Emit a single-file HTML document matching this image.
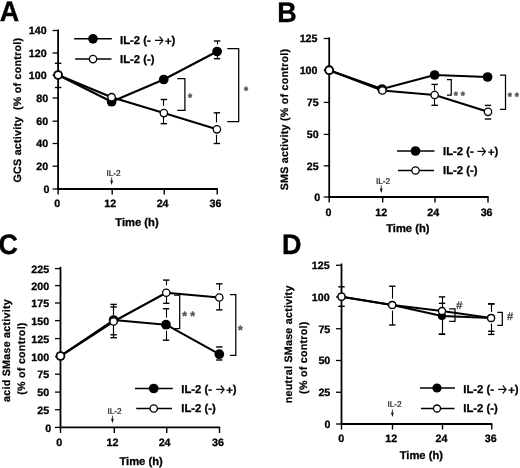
<!DOCTYPE html>
<html lang="en">
<head>
<meta charset="utf-8">
<title>Figure: GCS, SMS, acid and neutral SMase activity after IL-2</title>
<style>
html,body{margin:0;padding:0;background:#fff;}
body{width:520px;height:468px;overflow:hidden;}
svg{display:block;font-family:"Liberation Sans", sans-serif;text-rendering:geometricPrecision;}
</style>
</head>
<body>
<svg width="520" height="468" viewBox="0 0 520 468">
<rect width="520" height="468" fill="#fff"/>
<g>
<text transform="translate(-0.3 21.2) scale(0.955 1)" font-size="28.2" font-weight="bold" fill="#000" stroke="#000" stroke-width="0.35">A</text>
<text transform="translate(20.6 110.1) rotate(-90)" font-size="10.7" font-weight="bold" letter-spacing="0.25" text-anchor="middle" fill="#000" stroke="#000" stroke-width="0.22">GCS activity&#160; (% of control)</text>
<text x="137" y="226.2" font-size="11.2" font-weight="bold" text-anchor="middle" fill="#000"  stroke="#000" stroke-width="0.3">Time (h)</text>
<line x1="52.6" y1="189" x2="58.1" y2="189" stroke="#000" stroke-width="1.3" stroke-linecap="butt"/>
<text x="49.5" y="192.9" font-size="10.7" font-weight="bold" text-anchor="end" fill="#000"  stroke="#000" stroke-width="0.3">0</text>
<line x1="52.6" y1="166.2" x2="58.1" y2="166.2" stroke="#000" stroke-width="1.3" stroke-linecap="butt"/>
<text x="48.2" y="170.1" font-size="10.7" font-weight="bold" text-anchor="end" fill="#000"  stroke="#000" stroke-width="0.3">20</text>
<line x1="52.6" y1="143.5" x2="58.1" y2="143.5" stroke="#000" stroke-width="1.3" stroke-linecap="butt"/>
<text x="48.2" y="147.4" font-size="10.7" font-weight="bold" text-anchor="end" fill="#000"  stroke="#000" stroke-width="0.3">40</text>
<line x1="52.6" y1="121.2" x2="58.1" y2="121.2" stroke="#000" stroke-width="1.3" stroke-linecap="butt"/>
<text x="48.2" y="125.1" font-size="10.7" font-weight="bold" text-anchor="end" fill="#000"  stroke="#000" stroke-width="0.3">60</text>
<line x1="52.6" y1="98" x2="58.1" y2="98" stroke="#000" stroke-width="1.3" stroke-linecap="butt"/>
<text x="48.2" y="101.9" font-size="10.7" font-weight="bold" text-anchor="end" fill="#000"  stroke="#000" stroke-width="0.3">80</text>
<line x1="52.6" y1="75.3" x2="58.1" y2="75.3" stroke="#000" stroke-width="1.3" stroke-linecap="butt"/>
<text x="46.6" y="79.2" font-size="10.7" font-weight="bold" text-anchor="end" fill="#000"  stroke="#000" stroke-width="0.3">100</text>
<line x1="52.6" y1="53" x2="58.1" y2="53" stroke="#000" stroke-width="1.3" stroke-linecap="butt"/>
<text x="46.6" y="56.9" font-size="10.7" font-weight="bold" text-anchor="end" fill="#000"  stroke="#000" stroke-width="0.3">120</text>
<line x1="52.6" y1="30.5" x2="58.1" y2="30.5" stroke="#000" stroke-width="1.3" stroke-linecap="butt"/>
<text x="46.6" y="34.4" font-size="10.7" font-weight="bold" text-anchor="end" fill="#000"  stroke="#000" stroke-width="0.3">140</text>
<line x1="58.1" y1="189" x2="58.1" y2="194.6" stroke="#000" stroke-width="1.4" stroke-linecap="butt"/>
<text x="57.3" y="206.8" font-size="10.7" font-weight="bold" text-anchor="middle" fill="#000"  stroke="#000" stroke-width="0.3">0</text>
<line x1="112.2" y1="189" x2="112.2" y2="194.6" stroke="#000" stroke-width="1.4" stroke-linecap="butt"/>
<text x="110.2" y="206.8" font-size="10.7" font-weight="bold" text-anchor="middle" fill="#000"  stroke="#000" stroke-width="0.3">12</text>
<line x1="164.2" y1="189" x2="164.2" y2="194.6" stroke="#000" stroke-width="1.4" stroke-linecap="butt"/>
<text x="162.6" y="206.8" font-size="10.7" font-weight="bold" text-anchor="middle" fill="#000"  stroke="#000" stroke-width="0.3">24</text>
<line x1="217.25" y1="189" x2="217.25" y2="194.6" stroke="#000" stroke-width="1.4" stroke-linecap="butt"/>
<text x="215.5" y="206.8" font-size="10.7" font-weight="bold" text-anchor="middle" fill="#000"  stroke="#000" stroke-width="0.3">36</text>
<text x="113.55" y="176" font-size="8.3" font-weight="normal" text-anchor="middle" fill="#111" stroke="#111" stroke-width="0.2">IL-2</text>
<line x1="111.65" y1="177.4" x2="111.65" y2="183.5" stroke="#111" stroke-width="0.8" stroke-linecap="butt"/>
<path d="M110.25 180.5 L111.65 185 L113.05 180.5 Z" fill="#111"/>
<line x1="58.5" y1="63.3" x2="58.5" y2="67.45" stroke="#000" stroke-width="1.1" stroke-linecap="butt"/>
<line x1="58.5" y1="79.35" x2="58.5" y2="87.5" stroke="#000" stroke-width="1.1" stroke-linecap="butt"/>
<line x1="54.9" y1="63.3" x2="61.3" y2="63.3" stroke="#000" stroke-width="1.4" stroke-linecap="butt"/>
<line x1="54.9" y1="87.5" x2="61.3" y2="87.5" stroke="#000" stroke-width="1.4" stroke-linecap="butt"/>
<line x1="217.5" y1="41" x2="217.5" y2="44.45" stroke="#000" stroke-width="1.1" stroke-linecap="butt"/>
<line x1="217.5" y1="55.85" x2="217.5" y2="58.7" stroke="#000" stroke-width="1.1" stroke-linecap="butt"/>
<line x1="213.9" y1="41" x2="220.3" y2="41" stroke="#000" stroke-width="1.4" stroke-linecap="butt"/>
<line x1="213.9" y1="58.7" x2="220.3" y2="58.7" stroke="#000" stroke-width="1.4" stroke-linecap="butt"/>
<line x1="163.5" y1="99.5" x2="163.5" y2="105.75" stroke="#000" stroke-width="1.1" stroke-linecap="butt"/>
<line x1="163.5" y1="116.95" x2="163.5" y2="123.7" stroke="#000" stroke-width="1.1" stroke-linecap="butt"/>
<line x1="160.65" y1="99.5" x2="167.05" y2="99.5" stroke="#000" stroke-width="1.4" stroke-linecap="butt"/>
<line x1="160.65" y1="123.7" x2="167.05" y2="123.7" stroke="#000" stroke-width="1.4" stroke-linecap="butt"/>
<line x1="216.5" y1="112.8" x2="216.5" y2="122.45" stroke="#000" stroke-width="1.1" stroke-linecap="butt"/>
<line x1="216.5" y1="134.65" x2="216.5" y2="143.5" stroke="#000" stroke-width="1.1" stroke-linecap="butt"/>
<line x1="213.7" y1="112.8" x2="220.1" y2="112.8" stroke="#000" stroke-width="1.4" stroke-linecap="butt"/>
<line x1="213.7" y1="143.5" x2="220.1" y2="143.5" stroke="#000" stroke-width="1.4" stroke-linecap="butt"/>
<line x1="58.1" y1="29.5" x2="58.1" y2="189.8" stroke="#000" stroke-width="1.8" stroke-linecap="butt"/>
<line x1="57.3" y1="189" x2="217.85" y2="189" stroke="#000" stroke-width="1.8" stroke-linecap="butt"/>
<polyline points="58.1,75 111.6,101.7 163.75,79.5 217.1,51.5" fill="none" stroke="#000" stroke-width="2.1" stroke-linejoin="round"/>
<polyline points="58.1,75 111.6,97.2 163.85,113.1 216.9,129.3" fill="none" stroke="#000" stroke-width="2.1" stroke-linejoin="round"/>
<circle cx="58.1" cy="75" r="4.85" fill="#000"/>
<circle cx="111.6" cy="101.7" r="4.85" fill="#000"/>
<circle cx="163.75" cy="79.5" r="4.85" fill="#000"/>
<circle cx="217.1" cy="51.5" r="4.85" fill="#000"/>
<circle cx="58.1" cy="75" r="3.7" fill="#fff" stroke="#000" stroke-width="1.3"/>
<circle cx="111.6" cy="97.2" r="3.7" fill="#fff" stroke="#000" stroke-width="1.3"/>
<circle cx="163.85" cy="113.1" r="3.7" fill="#fff" stroke="#000" stroke-width="1.3"/>
<circle cx="216.9" cy="129.3" r="3.7" fill="#fff" stroke="#000" stroke-width="1.3"/>
<polyline points="177.2,78.7 184.9,78.7 184.9,110.4 177.2,110.4" fill="none" stroke="#000" stroke-width="1.25"/>
<polyline points="227.3,48.5 238.7,48.5 238.7,121.7 227.3,121.7" fill="none" stroke="#000" stroke-width="1.25"/>
<text x="187.9" y="101" font-size="10.5" font-weight="bold" text-anchor="start" fill="#555" stroke="#555" stroke-width="0.45">*</text>
<text x="244.1" y="94.2" font-size="10.5" font-weight="bold" text-anchor="start" fill="#555" stroke="#555" stroke-width="0.45">*</text>
<line x1="74.2" y1="38.85" x2="111.8" y2="38.85" stroke="#000" stroke-width="1.5" stroke-linecap="butt"/>
<circle cx="93" cy="38.85" r="4.85" fill="#000"/>
<line x1="75.2" y1="59.1" x2="111.5" y2="59.1" stroke="#000" stroke-width="1.5" stroke-linecap="butt"/>
<circle cx="93" cy="59.1" r="3.7" fill="#fff" stroke="#000" stroke-width="1.3"/>
<text x="120" y="44.15" font-size="11.3" font-weight="bold" text-anchor="start" fill="#000"  stroke="#000" stroke-width="0.3">IL-2 (-</text>
<svg x="155" y="32.7" width="8.8" height="16" overflow="hidden"><text transform="translate(-5.8 14.2) scale(0.85 1)" font-family="'DejaVu Sans', sans-serif" font-weight="200" font-size="21" fill="#000" stroke="#000" stroke-width="0.25">→</text></svg>
<text x="165" y="44.65" font-size="11.3" font-weight="bold" text-anchor="start" fill="#000"  stroke="#000" stroke-width="0.3">+</text>
<text x="171.6" y="44.15" font-size="11.3" font-weight="bold" text-anchor="start" fill="#000"  stroke="#000" stroke-width="0.3">)</text>
<text x="120" y="63.1" font-size="11.3" font-weight="bold" text-anchor="start" fill="#000"  stroke="#000" stroke-width="0.3">IL-2 (-)</text>
</g>
<g>
<text transform="translate(277.2 21.5) scale(0.955 1)" font-size="28.2" font-weight="bold" fill="#000" stroke="#000" stroke-width="0.35">B</text>
<text transform="translate(288.2 119.5) rotate(-90)" font-size="10.7" font-weight="bold" letter-spacing="0.25" text-anchor="middle" fill="#000" stroke="#000" stroke-width="0.22">SMS activity (% of control)</text>
<text x="407.8" y="231.8" font-size="11.2" font-weight="bold" text-anchor="middle" fill="#000"  stroke="#000" stroke-width="0.3">Time (h)</text>
<line x1="323.7" y1="197" x2="329.2" y2="197" stroke="#000" stroke-width="1.3" stroke-linecap="butt"/>
<text x="320.2" y="200.9" font-size="10.7" font-weight="bold" text-anchor="end" fill="#000"  stroke="#000" stroke-width="0.3">0</text>
<line x1="323.7" y1="165.85" x2="329.2" y2="165.85" stroke="#000" stroke-width="1.3" stroke-linecap="butt"/>
<text x="318.7" y="169.75" font-size="10.7" font-weight="bold" text-anchor="end" fill="#000"  stroke="#000" stroke-width="0.3">25</text>
<line x1="323.7" y1="134.4" x2="329.2" y2="134.4" stroke="#000" stroke-width="1.3" stroke-linecap="butt"/>
<text x="318.7" y="138.3" font-size="10.7" font-weight="bold" text-anchor="end" fill="#000"  stroke="#000" stroke-width="0.3">50</text>
<line x1="323.7" y1="102.4" x2="329.2" y2="102.4" stroke="#000" stroke-width="1.3" stroke-linecap="butt"/>
<text x="318.7" y="106.3" font-size="10.7" font-weight="bold" text-anchor="end" fill="#000"  stroke="#000" stroke-width="0.3">75</text>
<line x1="323.7" y1="70.2" x2="329.2" y2="70.2" stroke="#000" stroke-width="1.3" stroke-linecap="butt"/>
<text x="317.5" y="74.1" font-size="10.7" font-weight="bold" text-anchor="end" fill="#000"  stroke="#000" stroke-width="0.3">100</text>
<line x1="323.7" y1="38.5" x2="329.2" y2="38.5" stroke="#000" stroke-width="1.3" stroke-linecap="butt"/>
<text x="317.5" y="42.4" font-size="10.7" font-weight="bold" text-anchor="end" fill="#000"  stroke="#000" stroke-width="0.3">125</text>
<line x1="329.2" y1="197" x2="329.2" y2="202.6" stroke="#000" stroke-width="1.4" stroke-linecap="butt"/>
<text x="328.4" y="215.8" font-size="10.7" font-weight="bold" text-anchor="middle" fill="#000"  stroke="#000" stroke-width="0.3">0</text>
<line x1="382.7" y1="197" x2="382.7" y2="202.6" stroke="#000" stroke-width="1.4" stroke-linecap="butt"/>
<text x="381.3" y="215.8" font-size="10.7" font-weight="bold" text-anchor="middle" fill="#000"  stroke="#000" stroke-width="0.3">12</text>
<line x1="435" y1="197" x2="435" y2="202.6" stroke="#000" stroke-width="1.4" stroke-linecap="butt"/>
<text x="433.3" y="215.8" font-size="10.7" font-weight="bold" text-anchor="middle" fill="#000"  stroke="#000" stroke-width="0.3">24</text>
<line x1="488" y1="197" x2="488" y2="202.6" stroke="#000" stroke-width="1.4" stroke-linecap="butt"/>
<text x="486.6" y="215.8" font-size="10.7" font-weight="bold" text-anchor="middle" fill="#000"  stroke="#000" stroke-width="0.3">36</text>
<text x="383.05" y="184" font-size="8.3" font-weight="normal" text-anchor="middle" fill="#111" stroke="#111" stroke-width="0.2">IL-2</text>
<line x1="381.25" y1="185.4" x2="381.25" y2="191.5" stroke="#111" stroke-width="0.8" stroke-linecap="butt"/>
<path d="M379.85 188.5 L381.25 193 L382.65 188.5 Z" fill="#111"/>
<line x1="434.5" y1="84.4" x2="434.5" y2="90.65" stroke="#000" stroke-width="1.1" stroke-linecap="butt"/>
<line x1="434.5" y1="98.85" x2="434.5" y2="105.3" stroke="#000" stroke-width="1.1" stroke-linecap="butt"/>
<line x1="431.45" y1="84.4" x2="437.85" y2="84.4" stroke="#000" stroke-width="1.4" stroke-linecap="butt"/>
<line x1="431.45" y1="105.3" x2="437.85" y2="105.3" stroke="#000" stroke-width="1.4" stroke-linecap="butt"/>
<line x1="488.5" y1="118.7" x2="488.5" y2="119" stroke="#000" stroke-width="1.1" stroke-linecap="butt"/>
<line x1="484.8" y1="105.4" x2="491.2" y2="105.4" stroke="#000" stroke-width="1.4" stroke-linecap="butt"/>
<line x1="484.8" y1="119" x2="491.2" y2="119" stroke="#000" stroke-width="1.4" stroke-linecap="butt"/>
<line x1="329.2" y1="37.5" x2="329.2" y2="197.8" stroke="#000" stroke-width="1.8" stroke-linecap="butt"/>
<line x1="328.4" y1="197" x2="488.6" y2="197" stroke="#000" stroke-width="1.8" stroke-linecap="butt"/>
<polyline points="329.2,70.2 382,89 434.65,75 487.6,77" fill="none" stroke="#000" stroke-width="2.1" stroke-linejoin="round"/>
<polyline points="329.2,70.2 382.4,90.5 434.65,95 488,111.85" fill="none" stroke="#000" stroke-width="2.1" stroke-linejoin="round"/>
<circle cx="329.2" cy="70.2" r="4.85" fill="#000"/>
<circle cx="382" cy="89" r="4.85" fill="#000"/>
<circle cx="434.65" cy="75" r="4.85" fill="#000"/>
<circle cx="487.6" cy="77" r="4.85" fill="#000"/>
<circle cx="329.2" cy="70.2" r="3.7" fill="#fff" stroke="#000" stroke-width="1.3"/>
<circle cx="382.4" cy="90.5" r="3.7" fill="#fff" stroke="#000" stroke-width="1.3"/>
<circle cx="434.65" cy="95" r="3.7" fill="#fff" stroke="#000" stroke-width="1.3"/>
<circle cx="488" cy="111.85" r="3.7" fill="#fff" stroke="#000" stroke-width="1.3"/>
<polyline points="447,79.5 451.25,79.5 451.25,95 447,95" fill="none" stroke="#000" stroke-width="1.25"/>
<polyline points="500,75 505.5,75 505.5,109.25 500,109.25" fill="none" stroke="#000" stroke-width="1.25"/>
<text x="453.75" y="99.1" font-size="10.5" font-weight="bold" text-anchor="start" fill="#555" stroke="#555" stroke-width="0.45">* *</text>
<text x="507.75" y="100" font-size="10.5" font-weight="bold" text-anchor="start" fill="#555" stroke="#555" stroke-width="0.45">* *</text>
<line x1="397" y1="151" x2="434.5" y2="151" stroke="#000" stroke-width="1.5" stroke-linecap="butt"/>
<circle cx="415.5" cy="151" r="4.85" fill="#000"/>
<line x1="398" y1="170.5" x2="434" y2="170.5" stroke="#000" stroke-width="1.5" stroke-linecap="butt"/>
<circle cx="415.5" cy="170.5" r="3.7" fill="#fff" stroke="#000" stroke-width="1.3"/>
<text x="443" y="154.8" font-size="11.3" font-weight="bold" text-anchor="start" fill="#000"  stroke="#000" stroke-width="0.3">IL-2 (-</text>
<svg x="477.5" y="143.9" width="8.8" height="16" overflow="hidden"><text transform="translate(-5.8 14.2) scale(0.85 1)" font-family="'DejaVu Sans', sans-serif" font-weight="200" font-size="21" fill="#000" stroke="#000" stroke-width="0.25">→</text></svg>
<text x="488" y="155.7" font-size="11.3" font-weight="bold" text-anchor="start" fill="#000"  stroke="#000" stroke-width="0.3">+</text>
<text x="494.6" y="154.8" font-size="11.3" font-weight="bold" text-anchor="start" fill="#000"  stroke="#000" stroke-width="0.3">)</text>
<text x="443" y="173.7" font-size="11.3" font-weight="bold" text-anchor="start" fill="#000"  stroke="#000" stroke-width="0.3">IL-2 (-)</text>
</g>
<g>
<text transform="translate(-1.4 253.5) scale(0.955 1)" font-size="28.2" font-weight="bold" fill="#000" stroke="#000" stroke-width="0.35">C</text>
<text transform="translate(10.1 350.5) rotate(-90)" font-size="10.7" font-weight="bold" letter-spacing="0.25" text-anchor="middle" fill="#000" stroke="#000" stroke-width="0.22">acid SMase activity</text>
<text transform="translate(24.7 358.5) rotate(-90)" font-size="10.7" font-weight="bold" letter-spacing="0.25" text-anchor="middle" fill="#000" stroke="#000" stroke-width="0.22">(% of control)</text>
<text x="141.1" y="465.1" font-size="11.2" font-weight="bold" text-anchor="middle" fill="#000"  stroke="#000" stroke-width="0.3">Time (h)</text>
<line x1="55" y1="427.4" x2="60.5" y2="427.4" stroke="#000" stroke-width="1.3" stroke-linecap="butt"/>
<text x="51.2" y="431.6" font-size="10.7" font-weight="bold" text-anchor="end" fill="#000"  stroke="#000" stroke-width="0.3">0</text>
<line x1="55" y1="409.7" x2="60.5" y2="409.7" stroke="#000" stroke-width="1.3" stroke-linecap="butt"/>
<text x="49.1" y="413.9" font-size="10.7" font-weight="bold" text-anchor="end" fill="#000"  stroke="#000" stroke-width="0.3">25</text>
<line x1="55" y1="392.1" x2="60.5" y2="392.1" stroke="#000" stroke-width="1.3" stroke-linecap="butt"/>
<text x="49.1" y="396.3" font-size="10.7" font-weight="bold" text-anchor="end" fill="#000"  stroke="#000" stroke-width="0.3">50</text>
<line x1="55" y1="374.2" x2="60.5" y2="374.2" stroke="#000" stroke-width="1.3" stroke-linecap="butt"/>
<text x="49.1" y="378.4" font-size="10.7" font-weight="bold" text-anchor="end" fill="#000"  stroke="#000" stroke-width="0.3">75</text>
<line x1="55" y1="356.6" x2="60.5" y2="356.6" stroke="#000" stroke-width="1.3" stroke-linecap="butt"/>
<text x="49.1" y="360.8" font-size="10.7" font-weight="bold" text-anchor="end" fill="#000"  stroke="#000" stroke-width="0.3">100</text>
<line x1="55" y1="338.6" x2="60.5" y2="338.6" stroke="#000" stroke-width="1.3" stroke-linecap="butt"/>
<text x="49.1" y="342.8" font-size="10.7" font-weight="bold" text-anchor="end" fill="#000"  stroke="#000" stroke-width="0.3">125</text>
<line x1="55" y1="320.6" x2="60.5" y2="320.6" stroke="#000" stroke-width="1.3" stroke-linecap="butt"/>
<text x="49.1" y="324.8" font-size="10.7" font-weight="bold" text-anchor="end" fill="#000"  stroke="#000" stroke-width="0.3">150</text>
<line x1="55" y1="303" x2="60.5" y2="303" stroke="#000" stroke-width="1.3" stroke-linecap="butt"/>
<text x="49.1" y="307.2" font-size="10.7" font-weight="bold" text-anchor="end" fill="#000"  stroke="#000" stroke-width="0.3">175</text>
<line x1="55" y1="285.6" x2="60.5" y2="285.6" stroke="#000" stroke-width="1.3" stroke-linecap="butt"/>
<text x="49.1" y="289.8" font-size="10.7" font-weight="bold" text-anchor="end" fill="#000"  stroke="#000" stroke-width="0.3">200</text>
<line x1="55" y1="268.6" x2="60.5" y2="268.6" stroke="#000" stroke-width="1.3" stroke-linecap="butt"/>
<text x="49.1" y="272.8" font-size="10.7" font-weight="bold" text-anchor="end" fill="#000"  stroke="#000" stroke-width="0.3">225</text>
<line x1="60.5" y1="427.4" x2="60.5" y2="433" stroke="#000" stroke-width="1.4" stroke-linecap="butt"/>
<text x="59.3" y="445.5" font-size="10.7" font-weight="bold" text-anchor="middle" fill="#000"  stroke="#000" stroke-width="0.3">0</text>
<line x1="114.3" y1="427.4" x2="114.3" y2="433" stroke="#000" stroke-width="1.4" stroke-linecap="butt"/>
<text x="112.5" y="445.5" font-size="10.7" font-weight="bold" text-anchor="middle" fill="#000"  stroke="#000" stroke-width="0.3">12</text>
<line x1="166.75" y1="427.4" x2="166.75" y2="433" stroke="#000" stroke-width="1.4" stroke-linecap="butt"/>
<text x="164.6" y="445.5" font-size="10.7" font-weight="bold" text-anchor="middle" fill="#000"  stroke="#000" stroke-width="0.3">24</text>
<line x1="219.5" y1="427.4" x2="219.5" y2="433" stroke="#000" stroke-width="1.4" stroke-linecap="butt"/>
<text x="218" y="445.5" font-size="10.7" font-weight="bold" text-anchor="middle" fill="#000"  stroke="#000" stroke-width="0.3">36</text>
<text x="114.55" y="413.5" font-size="8.3" font-weight="normal" text-anchor="middle" fill="#111" stroke="#111" stroke-width="0.2">IL-2</text>
<line x1="112.45" y1="415.7" x2="112.45" y2="421.8" stroke="#111" stroke-width="0.8" stroke-linecap="butt"/>
<path d="M111.05 418.8 L112.45 423.3 L113.85 418.8 Z" fill="#111"/>
<line x1="113.5" y1="304.4" x2="113.5" y2="315.15" stroke="#000" stroke-width="1.1" stroke-linecap="butt"/>
<line x1="113.5" y1="325.35" x2="113.5" y2="337.7" stroke="#000" stroke-width="1.1" stroke-linecap="butt"/>
<line x1="110.4" y1="304.4" x2="116.8" y2="304.4" stroke="#000" stroke-width="1.4" stroke-linecap="butt"/>
<line x1="110.4" y1="337.7" x2="116.8" y2="337.7" stroke="#000" stroke-width="1.4" stroke-linecap="butt"/>
<line x1="113.5" y1="307" x2="113.5" y2="315.15" stroke="#000" stroke-width="1.1" stroke-linecap="butt"/>
<line x1="113.5" y1="325.35" x2="113.5" y2="334.8" stroke="#000" stroke-width="1.1" stroke-linecap="butt"/>
<line x1="110.4" y1="307" x2="116.8" y2="307" stroke="#000" stroke-width="1.4" stroke-linecap="butt"/>
<line x1="110.4" y1="334.8" x2="116.8" y2="334.8" stroke="#000" stroke-width="1.4" stroke-linecap="butt"/>
<line x1="166.5" y1="280.1" x2="166.5" y2="285.3" stroke="#000" stroke-width="1.1" stroke-linecap="butt"/>
<line x1="166.5" y1="296.6" x2="166.5" y2="303.3" stroke="#000" stroke-width="1.1" stroke-linecap="butt"/>
<line x1="163.05" y1="280.1" x2="169.45" y2="280.1" stroke="#000" stroke-width="1.4" stroke-linecap="butt"/>
<line x1="163.05" y1="303.3" x2="169.45" y2="303.3" stroke="#000" stroke-width="1.4" stroke-linecap="butt"/>
<line x1="166.5" y1="308.7" x2="166.5" y2="317.65" stroke="#000" stroke-width="1.1" stroke-linecap="butt"/>
<line x1="166.5" y1="330.95" x2="166.5" y2="340.2" stroke="#000" stroke-width="1.1" stroke-linecap="butt"/>
<line x1="162.8" y1="308.7" x2="169.2" y2="308.7" stroke="#000" stroke-width="1.4" stroke-linecap="butt"/>
<line x1="162.8" y1="340.2" x2="169.2" y2="340.2" stroke="#000" stroke-width="1.4" stroke-linecap="butt"/>
<line x1="219.5" y1="283.8" x2="219.5" y2="290.15" stroke="#000" stroke-width="1.1" stroke-linecap="butt"/>
<line x1="219.5" y1="301.65" x2="219.5" y2="309.9" stroke="#000" stroke-width="1.1" stroke-linecap="butt"/>
<line x1="216.1" y1="283.8" x2="222.5" y2="283.8" stroke="#000" stroke-width="1.4" stroke-linecap="butt"/>
<line x1="216.1" y1="309.9" x2="222.5" y2="309.9" stroke="#000" stroke-width="1.4" stroke-linecap="butt"/>
<line x1="216.1" y1="347" x2="222.5" y2="347" stroke="#000" stroke-width="1.4" stroke-linecap="butt"/>
<line x1="216.1" y1="360" x2="222.5" y2="360" stroke="#000" stroke-width="1.4" stroke-linecap="butt"/>
<line x1="60.5" y1="266.8" x2="60.5" y2="428.2" stroke="#000" stroke-width="1.8" stroke-linecap="butt"/>
<line x1="59.7" y1="427.4" x2="220.1" y2="427.4" stroke="#000" stroke-width="1.8" stroke-linecap="butt"/>
<polyline points="60.5,356 113.6,320 166,324.7 219.3,354.2" fill="none" stroke="#000" stroke-width="2.1" stroke-linejoin="round"/>
<polyline points="60.5,356 113.6,321.5 166.25,292.75 219.3,297.5" fill="none" stroke="#000" stroke-width="2.1" stroke-linejoin="round"/>
<circle cx="60.5" cy="356" r="4.85" fill="#000"/>
<circle cx="113.6" cy="320" r="4.85" fill="#000"/>
<circle cx="166" cy="324.7" r="4.85" fill="#000"/>
<circle cx="219.3" cy="354.2" r="4.85" fill="#000"/>
<circle cx="60.5" cy="356" r="3.7" fill="#fff" stroke="#000" stroke-width="1.3"/>
<circle cx="113.6" cy="321.5" r="3.7" fill="#fff" stroke="#000" stroke-width="1.3"/>
<circle cx="166.25" cy="292.75" r="3.7" fill="#fff" stroke="#000" stroke-width="1.3"/>
<circle cx="219.3" cy="297.5" r="3.7" fill="#fff" stroke="#000" stroke-width="1.3"/>
<polyline points="174.1,295.1 179.7,295.1 179.7,328.6 174.1,328.6" fill="none" stroke="#000" stroke-width="1.25"/>
<polyline points="229.9,294.6 235.8,294.6 235.8,355.3 229.9,355.3" fill="none" stroke="#000" stroke-width="1.25"/>
<text x="182.15" y="320.45" font-size="12" font-weight="bold" text-anchor="start" fill="#555" stroke="#555" stroke-width="0.45">* *</text>
<text x="237.95" y="333.75" font-size="12" font-weight="bold" text-anchor="start" fill="#555" stroke="#555" stroke-width="0.45">*</text>
<line x1="135" y1="388.5" x2="172.8" y2="388.5" stroke="#000" stroke-width="1.5" stroke-linecap="butt"/>
<circle cx="153.75" cy="388.5" r="4.85" fill="#000"/>
<line x1="136.2" y1="408.5" x2="172" y2="408.5" stroke="#000" stroke-width="1.5" stroke-linecap="butt"/>
<circle cx="153.75" cy="408.5" r="3.7" fill="#fff" stroke="#000" stroke-width="1.3"/>
<text x="181.25" y="392.8" font-size="11.3" font-weight="bold" text-anchor="start" fill="#000"  stroke="#000" stroke-width="0.3">IL-2 (-</text>
<svg x="216.25" y="381.9" width="8.8" height="16" overflow="hidden"><text transform="translate(-5.8 14.2) scale(0.85 1)" font-family="'DejaVu Sans', sans-serif" font-weight="200" font-size="21" fill="#000" stroke="#000" stroke-width="0.25">→</text></svg>
<text x="226.25" y="393.8" font-size="11.3" font-weight="bold" text-anchor="start" fill="#000"  stroke="#000" stroke-width="0.3">+</text>
<text x="232.85" y="392.8" font-size="11.3" font-weight="bold" text-anchor="start" fill="#000"  stroke="#000" stroke-width="0.3">)</text>
<text x="181.25" y="412.3" font-size="11.3" font-weight="bold" text-anchor="start" fill="#000"  stroke="#000" stroke-width="0.3">IL-2 (-)</text>
</g>
<g>
<text transform="translate(282 253.8) scale(0.955 1)" font-size="28.2" font-weight="bold" fill="#000" stroke="#000" stroke-width="0.35">D</text>
<text transform="translate(291.9 344.3) rotate(-90)" font-size="10.7" font-weight="bold" letter-spacing="0.25" text-anchor="middle" fill="#000" stroke="#000" stroke-width="0.22">neutral SMase activity</text>
<text transform="translate(307.4 357.7) rotate(-90)" font-size="10.7" font-weight="bold" letter-spacing="0.25" text-anchor="middle" fill="#000" stroke="#000" stroke-width="0.22">(% of control)</text>
<text x="421.3" y="458.5" font-size="11.2" font-weight="bold" text-anchor="middle" fill="#000"  stroke="#000" stroke-width="0.3">Time (h)</text>
<line x1="336" y1="424" x2="341.5" y2="424" stroke="#000" stroke-width="1.3" stroke-linecap="butt"/>
<text x="330.4" y="427.9" font-size="10.7" font-weight="bold" text-anchor="end" fill="#000"  stroke="#000" stroke-width="0.3">0</text>
<line x1="336" y1="392.25" x2="341.5" y2="392.25" stroke="#000" stroke-width="1.3" stroke-linecap="butt"/>
<text x="330.3" y="396.15" font-size="10.7" font-weight="bold" text-anchor="end" fill="#000"  stroke="#000" stroke-width="0.3">25</text>
<line x1="336" y1="360.5" x2="341.5" y2="360.5" stroke="#000" stroke-width="1.3" stroke-linecap="butt"/>
<text x="330.3" y="364.4" font-size="10.7" font-weight="bold" text-anchor="end" fill="#000"  stroke="#000" stroke-width="0.3">50</text>
<line x1="336" y1="328.75" x2="341.5" y2="328.75" stroke="#000" stroke-width="1.3" stroke-linecap="butt"/>
<text x="330.3" y="332.65" font-size="10.7" font-weight="bold" text-anchor="end" fill="#000"  stroke="#000" stroke-width="0.3">75</text>
<line x1="336" y1="297" x2="341.5" y2="297" stroke="#000" stroke-width="1.3" stroke-linecap="butt"/>
<text x="329.6" y="300.9" font-size="10.7" font-weight="bold" text-anchor="end" fill="#000"  stroke="#000" stroke-width="0.3">100</text>
<line x1="336" y1="265.25" x2="341.5" y2="265.25" stroke="#000" stroke-width="1.3" stroke-linecap="butt"/>
<text x="329.6" y="269.15" font-size="10.7" font-weight="bold" text-anchor="end" fill="#000"  stroke="#000" stroke-width="0.3">125</text>
<line x1="341.5" y1="424" x2="341.5" y2="429.6" stroke="#000" stroke-width="1.4" stroke-linecap="butt"/>
<text x="341.2" y="442.1" font-size="10.7" font-weight="bold" text-anchor="middle" fill="#000"  stroke="#000" stroke-width="0.3">0</text>
<line x1="392.5" y1="424" x2="392.5" y2="429.6" stroke="#000" stroke-width="1.4" stroke-linecap="butt"/>
<text x="391.3" y="442.1" font-size="10.7" font-weight="bold" text-anchor="middle" fill="#000"  stroke="#000" stroke-width="0.3">12</text>
<line x1="442.5" y1="424" x2="442.5" y2="429.6" stroke="#000" stroke-width="1.4" stroke-linecap="butt"/>
<text x="441.4" y="442.1" font-size="10.7" font-weight="bold" text-anchor="middle" fill="#000"  stroke="#000" stroke-width="0.3">24</text>
<line x1="491.75" y1="424" x2="491.75" y2="429.6" stroke="#000" stroke-width="1.4" stroke-linecap="butt"/>
<text x="490.8" y="442.1" font-size="10.7" font-weight="bold" text-anchor="middle" fill="#000"  stroke="#000" stroke-width="0.3">36</text>
<text x="394.6" y="407.3" font-size="8.3" font-weight="normal" text-anchor="middle" fill="#111" stroke="#111" stroke-width="0.2">IL-2</text>
<line x1="392.4" y1="409.5" x2="392.4" y2="415.6" stroke="#111" stroke-width="0.8" stroke-linecap="butt"/>
<path d="M391 412.6 L392.4 417.1 L393.8 412.6 Z" fill="#111"/>
<line x1="341.5" y1="286.8" x2="341.5" y2="290.35" stroke="#000" stroke-width="1.1" stroke-linecap="butt"/>
<line x1="341.5" y1="302.35" x2="341.5" y2="306.3" stroke="#000" stroke-width="1.1" stroke-linecap="butt"/>
<line x1="338.3" y1="286.8" x2="344.7" y2="286.8" stroke="#000" stroke-width="1.4" stroke-linecap="butt"/>
<line x1="338.3" y1="306.3" x2="344.7" y2="306.3" stroke="#000" stroke-width="1.4" stroke-linecap="butt"/>
<line x1="392.5" y1="286.2" x2="392.5" y2="298.65" stroke="#000" stroke-width="1.1" stroke-linecap="butt"/>
<line x1="392.5" y1="310.65" x2="392.5" y2="325" stroke="#000" stroke-width="1.1" stroke-linecap="butt"/>
<line x1="389.1" y1="286.2" x2="395.5" y2="286.2" stroke="#000" stroke-width="1.4" stroke-linecap="butt"/>
<line x1="389.1" y1="325" x2="395.5" y2="325" stroke="#000" stroke-width="1.4" stroke-linecap="butt"/>
<line x1="442.5" y1="296.9" x2="442.5" y2="304.65" stroke="#000" stroke-width="1.1" stroke-linecap="butt"/>
<line x1="442.5" y1="319.6" x2="442.5" y2="334.2" stroke="#000" stroke-width="1.1" stroke-linecap="butt"/>
<line x1="438.8" y1="296.9" x2="445.2" y2="296.9" stroke="#000" stroke-width="1.4" stroke-linecap="butt"/>
<line x1="438.8" y1="334.2" x2="445.2" y2="334.2" stroke="#000" stroke-width="1.4" stroke-linecap="butt"/>
<line x1="442.5" y1="303.3" x2="442.5" y2="315.85" stroke="#000" stroke-width="1.1" stroke-linecap="butt"/>
<line x1="442.5" y1="319.6" x2="442.5" y2="334.2" stroke="#000" stroke-width="1.1" stroke-linecap="butt"/>
<line x1="438.8" y1="303.3" x2="445.2" y2="303.3" stroke="#000" stroke-width="1.4" stroke-linecap="butt"/>
<line x1="438.8" y1="334.2" x2="445.2" y2="334.2" stroke="#000" stroke-width="1.4" stroke-linecap="butt"/>
<line x1="491.5" y1="303.9" x2="491.5" y2="311.65" stroke="#000" stroke-width="1.1" stroke-linecap="butt"/>
<line x1="491.5" y1="323.65" x2="491.5" y2="334.4" stroke="#000" stroke-width="1.1" stroke-linecap="butt"/>
<line x1="488.05" y1="303.9" x2="494.45" y2="303.9" stroke="#000" stroke-width="1.4" stroke-linecap="butt"/>
<line x1="488.05" y1="334.4" x2="494.45" y2="334.4" stroke="#000" stroke-width="1.4" stroke-linecap="butt"/>
<line x1="491.5" y1="303.9" x2="491.5" y2="311.65" stroke="#000" stroke-width="1.1" stroke-linecap="butt"/>
<line x1="491.5" y1="323.65" x2="491.5" y2="331.3" stroke="#000" stroke-width="1.1" stroke-linecap="butt"/>
<line x1="488.05" y1="303.9" x2="494.45" y2="303.9" stroke="#000" stroke-width="1.4" stroke-linecap="butt"/>
<line x1="488.05" y1="331.3" x2="494.45" y2="331.3" stroke="#000" stroke-width="1.4" stroke-linecap="butt"/>
<line x1="341.5" y1="263.5" x2="341.5" y2="424.8" stroke="#000" stroke-width="1.8" stroke-linecap="butt"/>
<line x1="340.7" y1="424" x2="492.35" y2="424" stroke="#000" stroke-width="1.8" stroke-linecap="butt"/>
<polyline points="341.5,296.7 392.2,305 442,316 491.1,318" fill="none" stroke="#000" stroke-width="2.1" stroke-linejoin="round"/>
<polyline points="341.5,296.7 392.2,305 442,311 491.1,318" fill="none" stroke="#000" stroke-width="2.1" stroke-linejoin="round"/>
<circle cx="341.5" cy="296.7" r="4.1" fill="#000"/>
<circle cx="392.2" cy="305" r="4.1" fill="#000"/>
<circle cx="442" cy="316" r="4.1" fill="#000"/>
<circle cx="491.1" cy="318" r="4.1" fill="#000"/>
<circle cx="341.5" cy="296.7" r="3.5" fill="#fff" stroke="#000" stroke-width="1.3"/>
<circle cx="392.2" cy="305" r="3.5" fill="#fff" stroke="#000" stroke-width="1.3"/>
<circle cx="442" cy="311" r="3.5" fill="#fff" stroke="#000" stroke-width="1.3"/>
<circle cx="491.1" cy="318" r="3.5" fill="#fff" stroke="#000" stroke-width="1.3"/>
<polyline points="449.2,308.8 455,308.8 455,321.3 449.2,321.3" fill="none" stroke="#000" stroke-width="1.25"/>
<polyline points="497.3,312.4 502.3,312.4 502.3,325.3 497.3,325.3" fill="none" stroke="#000" stroke-width="1.25"/>
<text x="456.2" y="309" font-size="11" font-weight="normal" text-anchor="start" fill="#3a3a3a" stroke="#3a3a3a" stroke-width="0.3">#</text>
<text x="507" y="320.3" font-size="11" font-weight="normal" text-anchor="start" fill="#3a3a3a" stroke="#3a3a3a" stroke-width="0.3">#</text>
<line x1="420" y1="388" x2="455" y2="388" stroke="#000" stroke-width="1.5" stroke-linecap="butt"/>
<circle cx="437" cy="388" r="4.6" fill="#000"/>
<line x1="421" y1="408.5" x2="454.5" y2="408.5" stroke="#000" stroke-width="1.5" stroke-linecap="butt"/>
<circle cx="437" cy="408.5" r="3.5" fill="#fff" stroke="#000" stroke-width="1.3"/>
<text x="463.25" y="392.9" font-size="11.3" font-weight="bold" text-anchor="start" fill="#000"  stroke="#000" stroke-width="0.3">IL-2 (-</text>
<svg x="498.25" y="381.9" width="8.8" height="16" overflow="hidden"><text transform="translate(-5.8 14.2) scale(0.85 1)" font-family="'DejaVu Sans', sans-serif" font-weight="200" font-size="21" fill="#000" stroke="#000" stroke-width="0.25">→</text></svg>
<text x="508.25" y="393.5" font-size="11.3" font-weight="bold" text-anchor="start" fill="#000"  stroke="#000" stroke-width="0.3">+</text>
<text x="514.85" y="392.9" font-size="11.3" font-weight="bold" text-anchor="start" fill="#000"  stroke="#000" stroke-width="0.3">)</text>
<text x="463.25" y="411.5" font-size="11.3" font-weight="bold" text-anchor="start" fill="#000"  stroke="#000" stroke-width="0.3">IL-2 (-)</text>
</g>
</svg>
</body>
</html>
